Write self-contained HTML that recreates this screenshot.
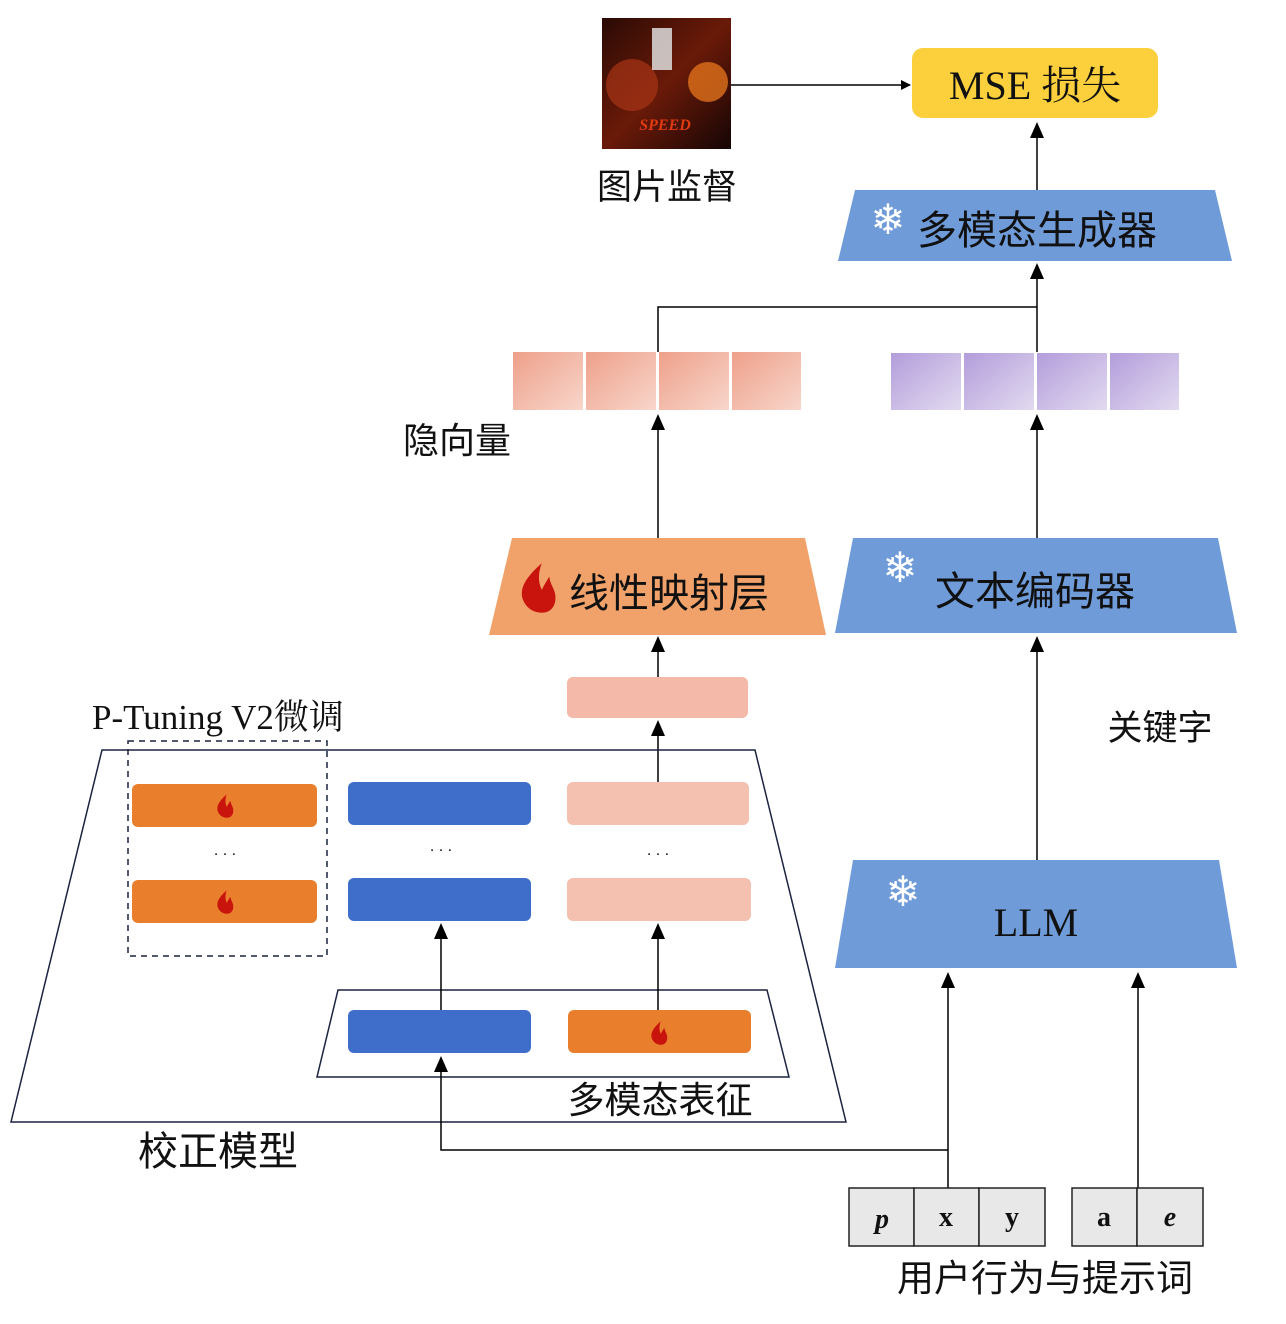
<!DOCTYPE html>
<html><head><meta charset="utf-8"><style>
html,body{margin:0;padding:0;background:#fff;}
svg{display:block;}
text{font-family:"Liberation Sans","Noto Sans CJK SC",sans-serif;fill:#111;}
.serif{font-family:"Liberation Serif","Noto Serif CJK SC","Noto Sans CJK SC",serif;}
</style></head><body>
<svg width="1286" height="1324" viewBox="0 0 1286 1324" xmlns="http://www.w3.org/2000/svg">
<defs>
<marker id="ar" markerWidth="10" markerHeight="10" refX="9" refY="5" orient="auto" markerUnits="userSpaceOnUse"><path d="M0,0 L10,5 L0,10 Z" fill="#000"/></marker>
<marker id="au" markerWidth="14" markerHeight="16" refX="7" refY="2" orient="0" markerUnits="userSpaceOnUse"><path d="M0,16 L7,0 L14,16 Z" fill="#000"/></marker>
<linearGradient id="pk" x1="0" y1="0" x2="1" y2="1"><stop offset="0" stop-color="#eea08a"/><stop offset="1" stop-color="#f8d6cb"/></linearGradient>
<linearGradient id="pu" x1="0" y1="0" x2="1" y2="1"><stop offset="0" stop-color="#b39ddb"/><stop offset="1" stop-color="#e2daf0"/></linearGradient>
<linearGradient id="po" x1="0" y1="0" x2="1" y2="1"><stop offset="0" stop-color="#2a0a05"/><stop offset="0.5" stop-color="#6a1a08"/><stop offset="1" stop-color="#150505"/></linearGradient>
</defs>

<!-- poster -->
<rect x="602" y="18" width="129" height="131" fill="url(#po)"/>
<circle cx="632" cy="85" r="26" fill="#a83416" opacity="0.7"/>
<circle cx="708" cy="82" r="20" fill="#e0701a" opacity="0.8"/>
<rect x="652" y="28" width="20" height="42" fill="#ddd" opacity="0.85"/>
<text x="665" y="130" class="serif" font-size="16" font-style="italic" font-weight="bold" text-anchor="middle" style="fill:#e03a10">SPEED</text>
<text x="667" y="199" font-size="35" text-anchor="middle">图片监督</text>
<line x1="731" y1="85" x2="910" y2="85" stroke="#000" stroke-width="1.5" marker-end="url(#ar)"/>

<rect x="912" y="48" width="246" height="70" rx="11" fill="#fcd03c"/>
<text x="1035" y="99" class="serif" font-size="40" text-anchor="middle">MSE 损失</text>

<line x1="1037" y1="190" x2="1037" y2="124" stroke="#000" stroke-width="1.5" marker-end="url(#au)"/>
<polygon points="855,190 1215,190 1232,261 838,261" fill="#6f9bd8"/>
<text x="888" y="234" font-size="42" text-anchor="middle" style="fill:#fff">❄</text>
<text x="1037" y="244" font-size="40" text-anchor="middle">多模态生成器</text>

<polyline points="658,352 658,307 1037,307" fill="none" stroke="#000" stroke-width="1.5"/>
<line x1="1037" y1="352" x2="1037" y2="265" stroke="#000" stroke-width="1.5" marker-end="url(#au)"/>

<rect x="513" y="352" width="70" height="58" fill="url(#pk)"/>
<rect x="586" y="352" width="70" height="58" fill="url(#pk)"/>
<rect x="659" y="352" width="70" height="58" fill="url(#pk)"/>
<rect x="732" y="352" width="69" height="58" fill="url(#pk)"/>
<rect x="891" y="353" width="70" height="57" fill="url(#pu)"/>
<rect x="964" y="353" width="70" height="57" fill="url(#pu)"/>
<rect x="1037" y="353" width="70" height="57" fill="url(#pu)"/>
<rect x="1110" y="353" width="69" height="57" fill="url(#pu)"/>
<text x="457" y="453" font-size="36" text-anchor="middle">隐向量</text>

<line x1="658" y1="538" x2="658" y2="416" stroke="#000" stroke-width="1.5" marker-end="url(#au)"/>
<line x1="1037" y1="538" x2="1037" y2="416" stroke="#000" stroke-width="1.5" marker-end="url(#au)"/>

<polygon points="512,538 805,538 826,635 489,635" fill="#f0a26a"/>
<path transform="translate(538,588) scale(1.9)" d="M2,-13 C-6,-6 -10,0 -8,6 C-6,11 -2,13 2,13 C7,13 10,9 9,3 C8,-1 6,-3 6,-6 C4,-3 3,-1 2,1 C0,-3 0,-8 2,-13Z" fill="#c8140c"/>
<text x="669" y="607" font-size="40" text-anchor="middle">线性映射层</text>

<polygon points="853,538 1218,538 1237,633 835,633" fill="#6f9bd8"/>
<text x="900" y="582" font-size="42" text-anchor="middle" style="fill:#fff">❄</text>
<text x="1035" y="605" font-size="40" text-anchor="middle">文本编码器</text>

<line x1="658" y1="677" x2="658" y2="638" stroke="#000" stroke-width="1.5" marker-end="url(#au)"/>
<rect x="567" y="677" width="181" height="41" rx="6" fill="#f4b9a8"/>
<line x1="658" y1="782" x2="658" y2="722" stroke="#000" stroke-width="1.5" marker-end="url(#au)"/>

<line x1="1037" y1="860" x2="1037" y2="638" stroke="#000" stroke-width="1.5" marker-end="url(#au)"/>
<text x="1160" y="740" font-size="35" text-anchor="middle">关键字</text>

<polygon points="853,860 1219,860 1237,968 835,968" fill="#6f9bd8"/>
<text x="903" y="906" font-size="42" text-anchor="middle" style="fill:#fff">❄</text>
<text x="1036" y="936" class="serif" font-size="40" text-anchor="middle">LLM</text>

<!-- calibration model -->
<polygon points="102,750 755,750 846,1122 11,1122" fill="none" stroke="#1a2440" stroke-width="1.5"/>
<text x="92" y="729" class="serif" font-size="35">P-Tuning V2微调</text>
<rect x="128" y="741" width="199" height="215" fill="none" stroke="#1a2440" stroke-width="1.5" stroke-dasharray="6,5"/>

<rect x="132" y="784" width="185" height="43" rx="6" fill="#e97f2c"/>
<path transform="translate(225,806) scale(0.9)" d="M2,-13 C-6,-6 -10,0 -8,6 C-6,11 -2,13 2,13 C7,13 10,9 9,3 C8,-1 6,-3 6,-6 C4,-3 3,-1 2,1 C0,-3 0,-8 2,-13Z" fill="#c8140c"/>
<rect x="132" y="880" width="185" height="43" rx="6" fill="#e97f2c"/>
<path transform="translate(225,902) scale(0.9)" d="M2,-13 C-6,-6 -10,0 -8,6 C-6,11 -2,13 2,13 C7,13 10,9 9,3 C8,-1 6,-3 6,-6 C4,-3 3,-1 2,1 C0,-3 0,-8 2,-13Z" fill="#c8140c"/>
<text x="225" y="855" font-size="16" text-anchor="middle">. . .</text>

<rect x="348" y="782" width="183" height="43" rx="6" fill="#3e6ec9"/>
<rect x="348" y="878" width="183" height="43" rx="6" fill="#3e6ec9"/>
<text x="441" y="851" font-size="16" text-anchor="middle">. . .</text>

<rect x="567" y="782" width="182" height="43" rx="6" fill="#f4c0b0"/>
<rect x="567" y="878" width="184" height="43" rx="6" fill="#f4c0b0"/>
<text x="658" y="855" font-size="16" text-anchor="middle">. . .</text>

<polygon points="338,990 767,990 789,1077 317,1077" fill="none" stroke="#1a2440" stroke-width="1.5"/>
<rect x="348" y="1010" width="183" height="43" rx="6" fill="#3e6ec9"/>
<rect x="568" y="1010" width="183" height="43" rx="6" fill="#e97f2c"/>
<path transform="translate(659,1033) scale(0.9)" d="M2,-13 C-6,-6 -10,0 -8,6 C-6,11 -2,13 2,13 C7,13 10,9 9,3 C8,-1 6,-3 6,-6 C4,-3 3,-1 2,1 C0,-3 0,-8 2,-13Z" fill="#c8140c"/>

<line x1="441" y1="1010" x2="441" y2="925" stroke="#000" stroke-width="1.5" marker-end="url(#au)"/>
<line x1="658" y1="1010" x2="658" y2="925" stroke="#000" stroke-width="1.5" marker-end="url(#au)"/>
<text x="660" y="1113" font-size="37" text-anchor="middle">多模态表征</text>
<text x="218" y="1165" font-size="40" text-anchor="middle">校正模型</text>

<polyline points="948,1150 441,1150 441,1058" fill="none" stroke="#000" stroke-width="1.5" marker-end="url(#au)"/>
<line x1="948" y1="1188" x2="948" y2="974" stroke="#000" stroke-width="1.5" marker-end="url(#au)"/>
<line x1="1138" y1="1188" x2="1138" y2="974" stroke="#000" stroke-width="1.5" marker-end="url(#au)"/>

<!-- tokens -->
<g stroke="#222" stroke-width="1.5" fill="#e8e8e8">
<rect x="849" y="1188" width="65" height="58"/>
<rect x="914" y="1188" width="65" height="58"/>
<rect x="979" y="1188" width="66" height="58"/>
<rect x="1072" y="1188" width="65" height="58"/>
<rect x="1137" y="1188" width="66" height="58"/>
</g>
<g class="serif" font-size="28" font-weight="bold" text-anchor="middle">
<text x="882" y="1228" class="serif" font-style="italic">p</text>
<text x="946" y="1226" class="serif">x</text>
<text x="1012" y="1226" class="serif">y</text>
<text x="1104" y="1226" class="serif">a</text>
<text x="1170" y="1226" class="serif" font-style="italic">e</text>
</g>
<text x="1045" y="1291" font-size="37" text-anchor="middle">用户行为与提示词</text>
</svg>
</body></html>
